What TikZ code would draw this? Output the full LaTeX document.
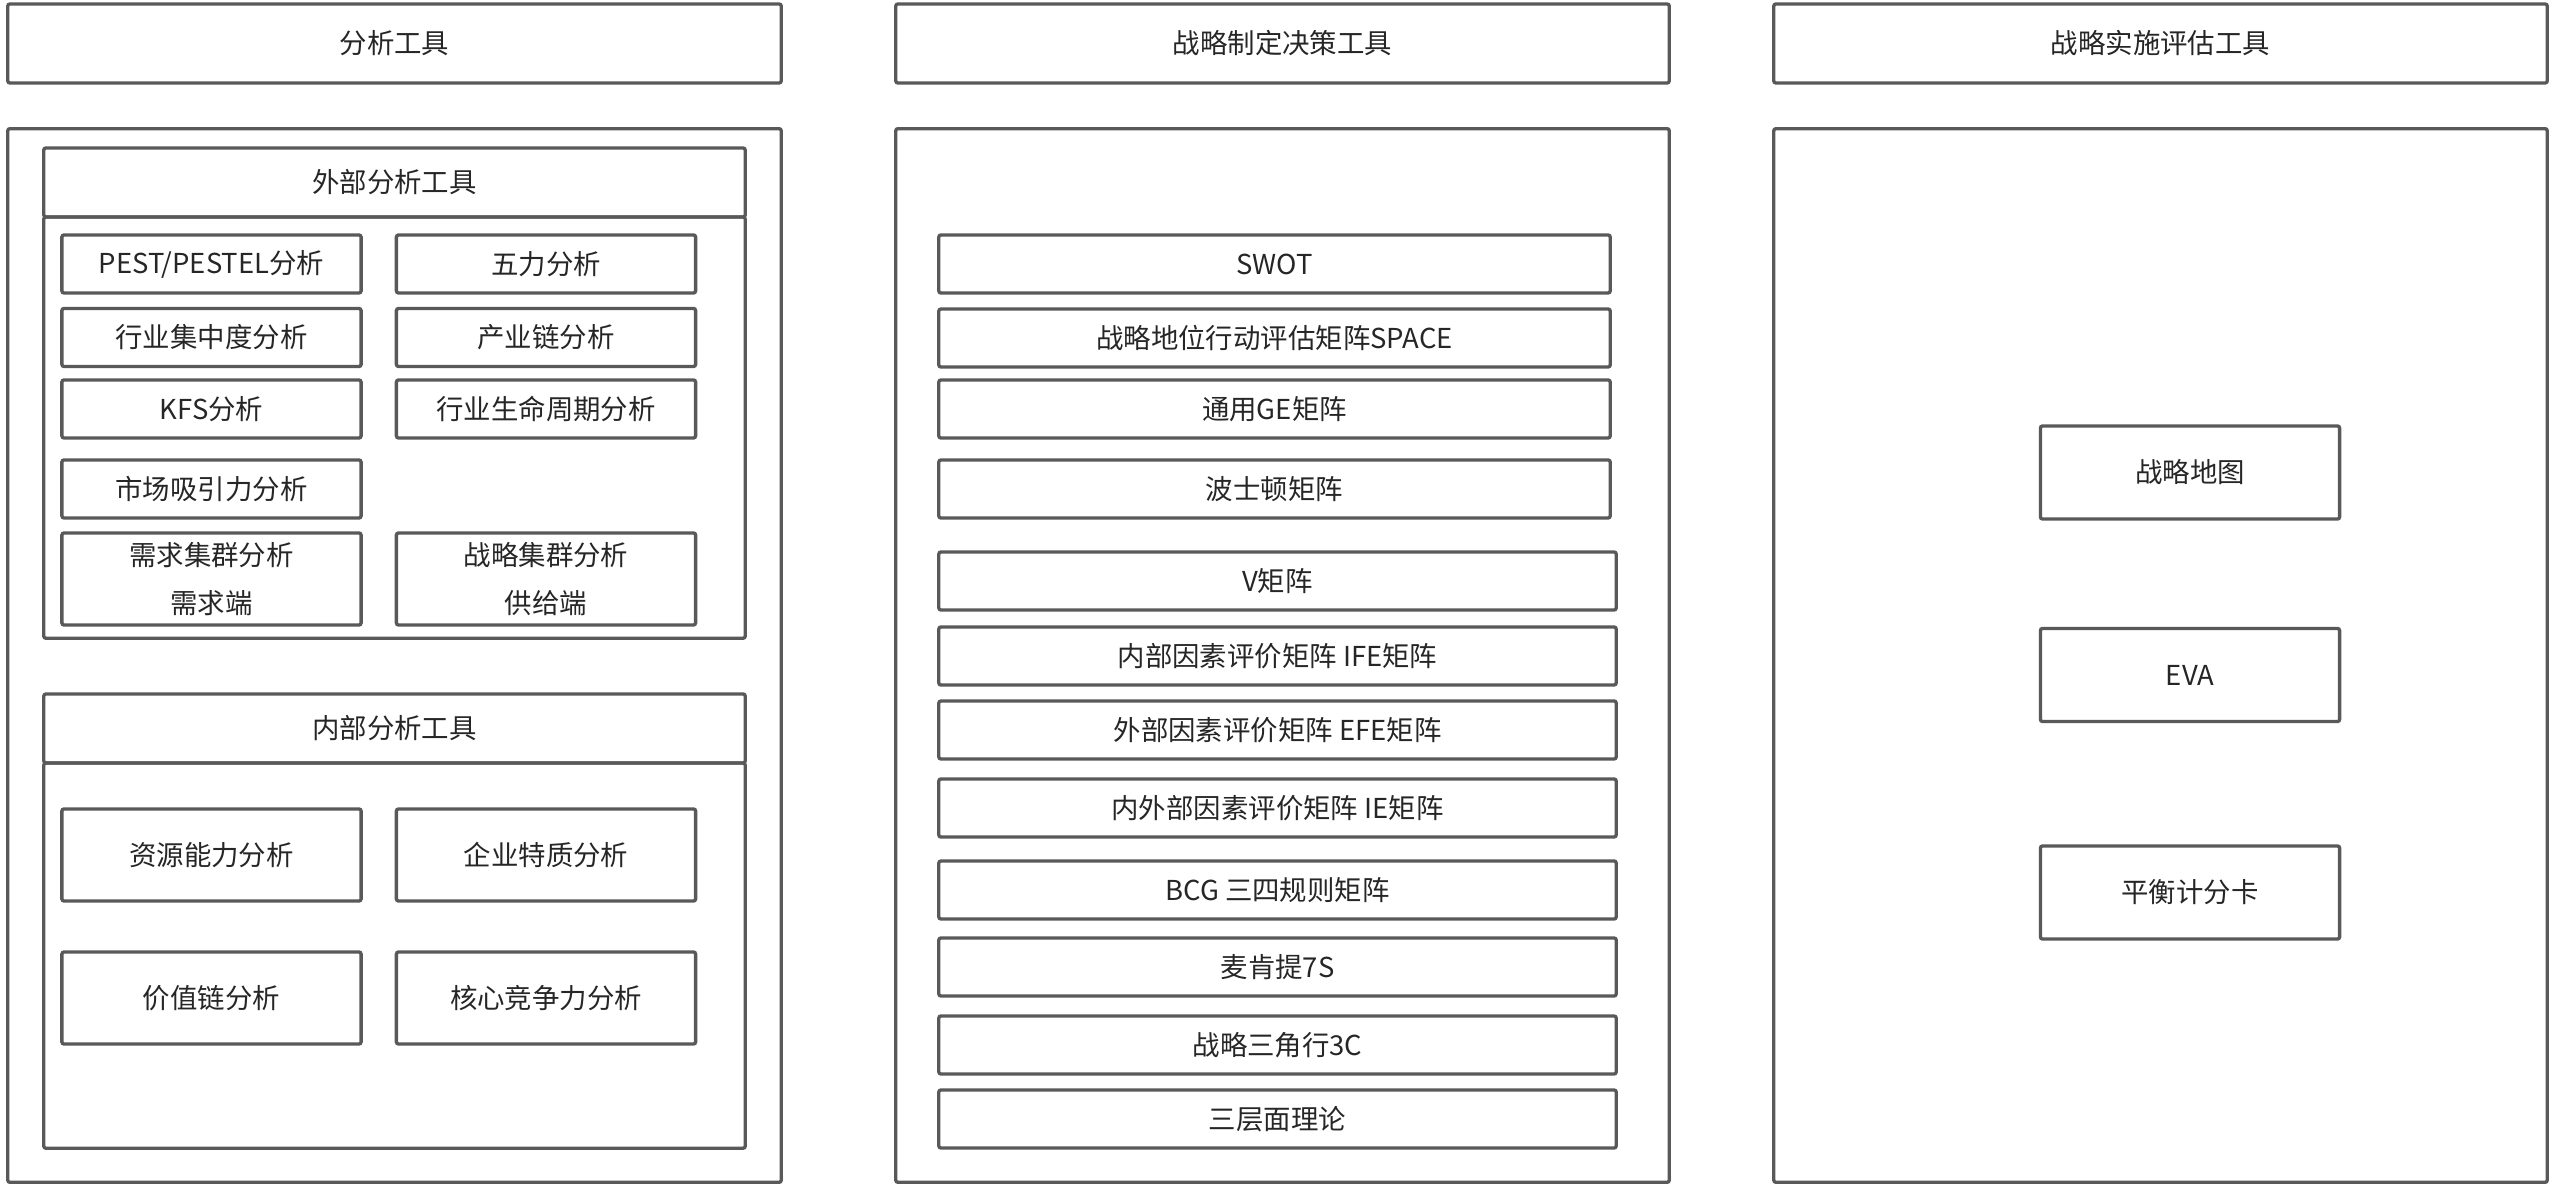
\documentclass[tikz,border=0pt]{standalone}
\usepackage{fontspec}
\setmainfont{Noto Sans CJK SC}
\usepackage{xcolor}
\usepackage{tikz}
\usetikzlibrary{positioning}
\definecolor{linegray}{HTML}{595959}
\definecolor{textgray}{HTML}{262626}
\tikzstyle{head} = [rectangle, rounded corners=0.6pt, minimum width=7.73cm, minimum height=0.79cm, text centered, draw=linegray]
\tikzstyle{panel} = [rectangle, rounded corners=0.6pt, minimum width=7.73cm, minimum height=10.53cm, draw=linegray]
\tikzstyle{grouphead} = [rectangle, rounded corners=0.6pt, minimum width=7.01cm, minimum height=0.69cm, text centered, draw=linegray]
\tikzstyle{groupbody} = [rectangle, rounded corners=0.6pt, minimum width=7.01cm, draw=linegray]
\tikzstyle{item} = [rectangle, rounded corners=0.6pt, minimum width=2.99cm, minimum height=0.58cm, align=center, draw=linegray]
\tikzstyle{wideitem} = [rectangle, rounded corners=0.6pt, minimum width=6.71cm, minimum height=0.58cm, text centered, draw=linegray]
\begin{document}
\begin{tikzpicture}[x=0.01cm, y=-0.01cm, line width=0.95pt, every node/.style={inner sep=0pt, outer sep=0pt, text=textgray, font=\fontsize{7.8pt}{13.6pt}\selectfont}]

	\useasboundingbox (0,0) rectangle (2555,1186);

	% column headers and panels
	\node (analysis) [head] at (394.5,43.5) {分析工具};
	\node (decision) [head] at (1282.5,43.5) {战略制定决策工具};
	\node (evaluation) [head] at (2160.5,43.5) {战略实施评估工具};

	\node (analysis-panel) [panel] at (394.5,655.5) {};
	\node (decision-panel) [panel] at (1282.5,655.5) {};
	\node (evaluation-panel) [panel] at (2160.5,655.5) {};

	% external analysis
	\node (external) [grouphead] at (394.5,182.5) {外部分析工具};
	\node (external-body) [groupbody, minimum height=4.21cm, below=0pt of external] {};

	\node (pest) [item] at (211.5,264) {PEST/PESTEL分析};
	\node (five-forces) [item] at (546,264) {五力分析};
	\node (concentration) [item] at (211.5,337.5) {行业集中度分析};
	\node (industry-chain) [item] at (546,337.5) {产业链分析};
	\node (kfs) [item] at (211.5,409) {KFS分析};
	\node (life-cycle) [item] at (546,409) {行业生命周期分析};
	\node (attraction) [item] at (211.5,489) {市场吸引力分析};
	\node (demand) [item, minimum height=0.92cm] at (211.5,579) {需求集群分析\\需求端};
	\node (supply) [item, minimum height=0.92cm] at (546,579) {战略集群分析\\供给端};

	% internal analysis
	\node (internal) [grouphead] at (394.5,728.5) {内部分析工具};
	\node (internal-body) [groupbody, minimum height=3.85cm, below=0pt of internal] {};

	\node (resources) [item, minimum height=0.92cm] at (211.5,855) {资源能力分析};
	\node (traits) [item, minimum height=0.92cm] at (546,855) {企业特质分析};
	\node (value-chain) [item, minimum height=0.92cm] at (211.5,998) {价值链分析};
	\node (core) [item, minimum height=0.92cm] at (546,998) {核心竞争力分析};

	% decision tools
	\node (swot) [wideitem] at (1274.5,264) {SWOT};
	\node (space) [wideitem] at (1274.5,338) {战略地位行动评估矩阵SPACE};
	\node (ge) [wideitem] at (1274.5,409) {通用GE矩阵};
	\node (boston) [wideitem] at (1274.5,489) {波士顿矩阵};
	\node (v-matrix) [wideitem, minimum width=6.77cm] at (1277.5,581) {V矩阵};
	\node (ife) [wideitem, minimum width=6.77cm] at (1277.5,656) {内部因素评价矩阵 IFE矩阵};
	\node (efe) [wideitem, minimum width=6.77cm] at (1277.5,730) {外部因素评价矩阵 EFE矩阵};
	\node (ie) [wideitem, minimum width=6.77cm] at (1277.5,808) {内外部因素评价矩阵 IE矩阵};
	\node (bcg) [wideitem, minimum width=6.77cm] at (1277.5,890) {BCG 三四规则矩阵};
	\node (seven-s) [wideitem, minimum width=6.77cm] at (1277.5,967) {麦肯提7S};
	\node (three-c) [wideitem, minimum width=6.77cm] at (1277.5,1045) {战略三角行3C};
	\node (three-layer) [wideitem, minimum width=6.77cm] at (1277.5,1119) {三层面理论};

	% evaluation tools
	\node (strategy-map) [item, minimum height=0.93cm] at (2190,472.5) {战略地图};
	\node (eva) [item, minimum height=0.93cm] at (2190,675) {EVA};
	\node (scorecard) [item, minimum height=0.93cm] at (2190,892.5) {平衡计分卡};

\end{tikzpicture}
\end{document}
